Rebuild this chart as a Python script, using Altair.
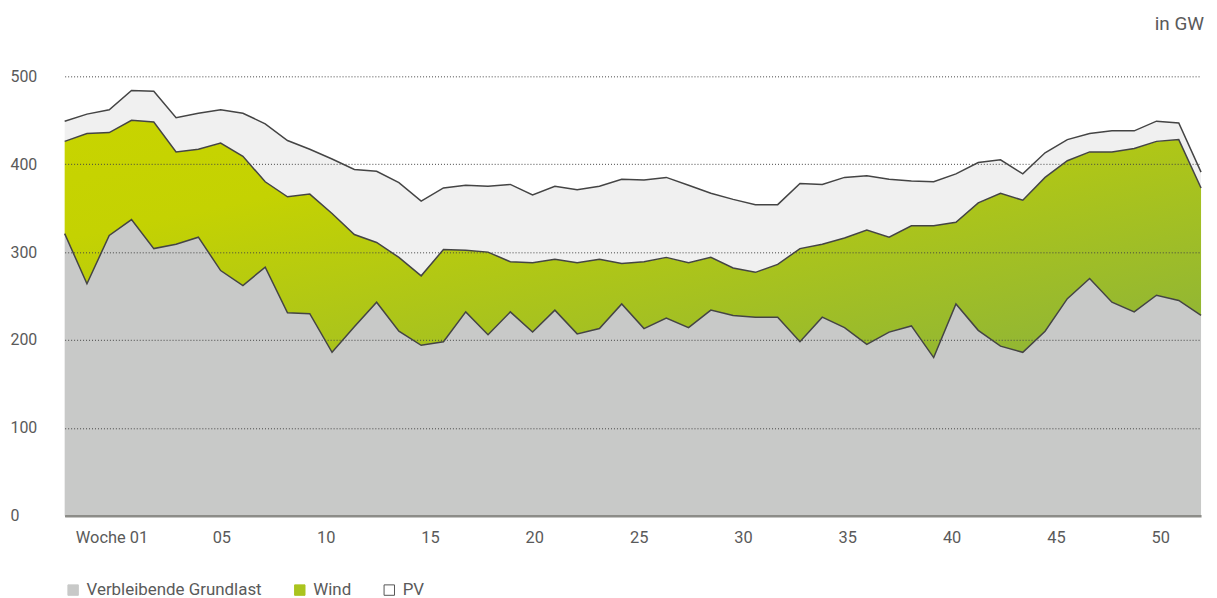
import altair as alt
import pandas as pd

weeks = list(range(1, 53))
grundlast = [321, 264, 319, 337, 304, 309, 317, 279, 262, 283, 231, 230, 186, 215, 243, 210,
             194, 198, 232, 206, 232, 209, 234, 207, 213, 241, 213, 225, 214, 234, 228, 226,
             226, 198, 226, 214, 195, 209, 216, 180, 241, 211, 193, 186, 210, 247, 270, 243,
             232, 251, 245, 228]
wind = [105, 171, 117, 113, 144, 105, 100, 145, 147, 97, 132, 136, 158, 105, 68, 84,
        79, 105, 70, 94, 57, 79, 58, 81, 79, 46, 76, 69, 74, 60, 54, 51,
        60, 106, 83, 102, 130, 108, 114, 150, 93, 145, 174, 173, 175, 157, 144, 171,
        186, 175, 183, 145]
pv = [23, 22, 26, 34, 35, 39, 41, 38, 49, 66, 64, 51, 62, 74, 81, 85,
      85, 70, 74, 75, 88, 77, 83, 83, 83, 96, 93, 91, 88, 73, 78, 77,
      68, 74, 68, 69, 62, 66, 51, 50, 55, 46, 38, 30, 28, 24, 21, 24,
      20, 23, 19, 18]

tick_weeks = [1, 5, 10, 15, 20, 25, 30, 35, 40, 45, 50]
series_names = ["Verbleibende Grundlast", "Wind", "PV"]
series_fill = ["#c8c9c8", "#aac41e", "#ffffff"]
series_stroke = ["#c8c9c8", "#aac41e", "#555555"]

df = pd.DataFrame({"week": weeks, "g": grundlast, "w": wind, "p": pv})
df["gw"] = df["g"] + df["w"]
df["tot"] = df["gw"] + df["p"]

# label positions on the week scale (labels are offset from data points in the original)
def label_pos(w):
    return 3.1 if w == 1 else 3.35 + 0.9364 * w

tick_vals = [label_pos(w) for w in tick_weeks]
lbl_expr = "datum.value < 4 ? 'Woche 01' : format(round((datum.value - 3.35) / 0.9364), '02d')"

xscale = alt.Scale(domain=[1, 52], nice=False, zero=False)
yscale = alt.Scale(domain=[0, 500], nice=False)

xax = alt.Axis(values=tick_vals, labelExpr=lbl_expr, title=None, grid=False, ticks=False,
               labelFontSize=16.5, labelColor="#5a5a5a", labelPadding=14, labelFont="Roboto",
               domainColor="#8c8c88", domainWidth=2.5, labelAngle=0, zindex=1)
yax = alt.Axis(values=[0, 100, 200, 300, 400, 500], title=None, grid=True, gridDash=[1, 2],
               gridColor="#444444", gridWidth=1, ticks=False, domain=False, labelAlign="left",
               labelPadding=55, labelFontSize=16, labelColor="#5a5a5a", labelFont="Roboto",
               zindex=1)

base = alt.Chart(df)

area_g = base.mark_area(color="#c8c9c8", interpolate="linear").encode(
    x=alt.X("week:Q", scale=xscale, axis=xax),
    y=alt.Y("g:Q", scale=yscale, axis=yax),
)

wind_grad = alt.Gradient(
    gradient="linear",
    stops=[alt.GradientStop(color="#c8d400", offset=0),
           alt.GradientStop(color="#c4d202", offset=0.25),
           alt.GradientStop(color="#8cb33a", offset=1)],
    x1=0, y1=0, x2=1, y2=1,
)
area_w = base.mark_area(color=wind_grad, interpolate="linear").encode(
    x=alt.X("week:Q", scale=xscale), y=alt.Y("gw:Q", scale=yscale), y2="g:Q")

area_p = base.mark_area(color="#f0f0f0", interpolate="linear").encode(
    x=alt.X("week:Q", scale=xscale), y=alt.Y("tot:Q", scale=yscale), y2="gw:Q")

line_kw = dict(color="#444444", strokeWidth=1.5)
line_g = base.mark_line(**line_kw).encode(x=alt.X("week:Q", scale=xscale), y=alt.Y("g:Q", scale=yscale))
line_w = base.mark_line(**line_kw).encode(x=alt.X("week:Q", scale=xscale), y=alt.Y("gw:Q", scale=yscale))
line_p = base.mark_line(**line_kw).encode(x=alt.X("week:Q", scale=xscale), y=alt.Y("tot:Q", scale=yscale))

# legend-only layer: points placed below the domain and clipped away
leg_df = pd.DataFrame({"series": series_names, "week": [1, 1, 1], "v": [-100, -100, -100]})
legend_layer = alt.Chart(leg_df).mark_square(size=110, opacity=1, filled=True, clip=True,
                                             strokeWidth=1).encode(
    x=alt.X("week:Q", scale=xscale),
    y=alt.Y("v:Q", scale=yscale),
    fill=alt.Fill("series:N", scale=alt.Scale(domain=series_names, range=series_fill),
                  legend=alt.Legend(title=None, orient="bottom", direction="horizontal",
                                    symbolType="square", symbolSize=110, symbolOpacity=1,
                                    symbolStrokeWidth=1, labelFontSize=17, labelColor="#5a5a5a",
                                    labelFont="Roboto", columnPadding=29, labelLimit=0,
                                    labelOffset=5, offset=35, padding=0)),
    stroke=alt.Stroke("series:N", scale=alt.Scale(domain=series_names, range=series_stroke)),
)

chart = alt.layer(area_g, area_w, area_p, line_g, line_w, line_p, legend_layer).properties(
    width=1143, height=442,
    title=alt.TitleParams("in GW", anchor="end", fontSize=19, font="Roboto", color="#5a5a5a",
                          fontWeight="normal", offset=35),
    padding={"left": 2, "top": 5, "right": 5, "bottom": 5},
).configure_view(stroke=None)

chart.save("out.html", embed_options={"renderer": "svg", "actions": False})
